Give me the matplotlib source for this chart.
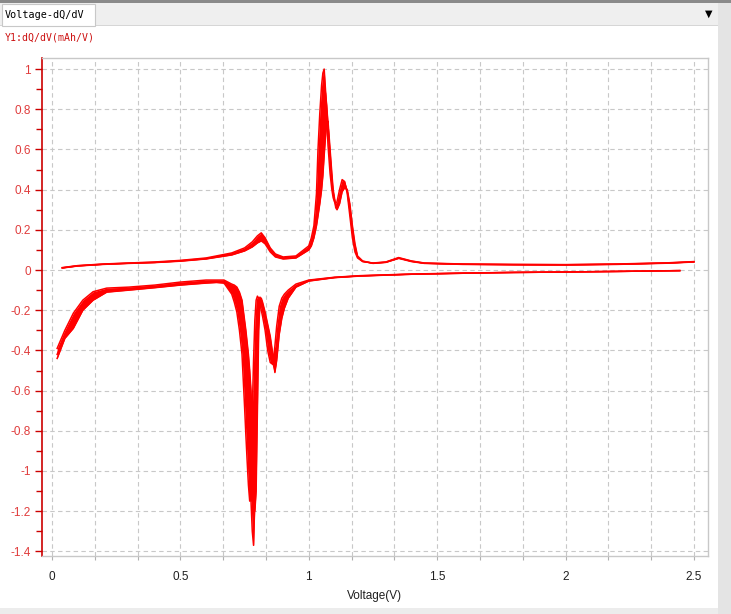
import matplotlib
matplotlib.use("Agg")
import matplotlib.pyplot as plt
import numpy as np
from matplotlib.patches import Rectangle
from matplotlib.ticker import MultipleLocator, FormatStrFormatter

plt.rcParams['axes.unicode_minus'] = False

# ---------------- data ----------------
charge_v = [0.04, 0.1, 0.2, 0.3, 0.4, 0.5, 0.6, 0.7, 0.75, 0.78, 0.8, 0.815, 0.83, 0.85, 0.87,
            0.9, 0.95, 1.0, 1.01, 1.02, 1.03, 1.036, 1.043, 1.05, 1.055, 1.06, 1.065, 1.07,
            1.075, 1.083, 1.09, 1.095, 1.1, 1.105, 1.11, 1.12, 1.13, 1.14, 1.15, 1.16, 1.17,
            1.18, 1.19, 1.21, 1.25, 1.3, 1.35, 1.4, 1.45, 1.6, 1.8, 2.0, 2.2, 2.4, 2.5]
charge_hi = [0.012, 0.022, 0.03, 0.035, 0.04, 0.048, 0.06, 0.085, 0.11, 0.14, 0.17, 0.185, 0.16,
             0.11, 0.08, 0.065, 0.07, 0.12, 0.16, 0.22, 0.38, 0.6, 0.78, 0.92, 0.98, 1.0, 0.9,
             0.75, 0.62, 0.48, 0.4, 0.36, 0.34, 0.33, 0.34, 0.4, 0.45, 0.44, 0.38, 0.27, 0.16,
             0.09, 0.06, 0.042, 0.035, 0.04, 0.062, 0.045, 0.035, 0.03, 0.028, 0.027, 0.03,
             0.036, 0.042]
charge_mid = [0.011, 0.021, 0.029, 0.034, 0.038, 0.046, 0.057, 0.08, 0.102, 0.128, 0.152, 0.165,
              0.145, 0.1, 0.072, 0.06, 0.065, 0.11, 0.14, 0.19, 0.28, 0.4, 0.58, 0.76, 0.86, 0.9,
              0.88, 0.82, 0.72, 0.56, 0.44, 0.38, 0.35, 0.32, 0.31, 0.36, 0.42, 0.43, 0.39, 0.3,
              0.19, 0.11, 0.065, 0.043, 0.034, 0.039, 0.06, 0.044, 0.034, 0.029, 0.027, 0.026,
              0.029, 0.035, 0.041]
charge_lo = [0.01, 0.02, 0.028, 0.033, 0.037, 0.044, 0.055, 0.075, 0.095, 0.115, 0.135, 0.145,
             0.13, 0.09, 0.065, 0.055, 0.06, 0.1, 0.12, 0.16, 0.22, 0.27, 0.33, 0.4, 0.47, 0.57,
             0.66, 0.73, 0.74, 0.6, 0.48, 0.4, 0.36, 0.31, 0.3, 0.33, 0.39, 0.41, 0.4, 0.33, 0.22,
             0.13, 0.07, 0.045, 0.033, 0.038, 0.058, 0.042, 0.033, 0.028, 0.026, 0.025, 0.028,
             0.034, 0.04]

discharge_v = [0.02, 0.05, 0.083, 0.12, 0.16, 0.213, 0.3, 0.4, 0.5, 0.6, 0.64, 0.67, 0.7, 0.71,
               0.72, 0.73, 0.74, 0.75, 0.755, 0.76, 0.765, 0.77, 0.775, 0.78, 0.785, 0.79, 0.795,
               0.8, 0.805, 0.81, 0.815, 0.82, 0.83, 0.84, 0.85, 0.86, 0.868, 0.875, 0.885, 0.895,
               0.905, 0.92, 0.95, 1.0, 1.1, 1.2, 1.4, 1.6, 1.8, 2.0, 2.2, 2.445]
discharge_a = [-0.44, -0.34, -0.29, -0.2, -0.15, -0.11, -0.1, -0.088, -0.075, -0.065, -0.062,
               -0.065, -0.12, -0.16, -0.21, -0.3, -0.42, -0.68, -0.82, -0.95, -1.07, -1.15, -1.0,
               -0.7, -0.45, -0.25, -0.15, -0.13, -0.14, -0.17, -0.2, -0.23, -0.3, -0.4, -0.46,
               -0.47, -0.38, -0.28, -0.18, -0.14, -0.12, -0.1, -0.07, -0.05, -0.036, -0.028,
               -0.02, -0.015, -0.012, -0.01, -0.007, -0.003]
discharge_b = [-0.42, -0.32, -0.25, -0.175, -0.13, -0.1, -0.092, -0.082, -0.068, -0.058, -0.056,
               -0.058, -0.09, -0.12, -0.16, -0.22, -0.32, -0.48, -0.6, -0.72, -0.85, -1.0, -1.15,
               -1.3, -1.37, -1.1, -0.6, -0.3, -0.15, -0.135, -0.15, -0.18, -0.25, -0.33, -0.4,
               -0.46, -0.5, -0.42, -0.27, -0.2, -0.16, -0.12, -0.08, -0.052, -0.037, -0.029,
               -0.021, -0.016, -0.012, -0.01, -0.007, -0.003]
discharge_c = [-0.39, -0.3, -0.215, -0.15, -0.108, -0.09, -0.085, -0.075, -0.06, -0.05, -0.05,
               -0.05, -0.07, -0.075, -0.085, -0.11, -0.15, -0.25, -0.3, -0.36, -0.42, -0.5, -0.6,
               -0.8, -1.0, -1.2, -1.1, -0.7, -0.3, -0.16, -0.14, -0.16, -0.21, -0.27, -0.33,
               -0.42, -0.51, -0.45, -0.32, -0.24, -0.19, -0.14, -0.085, -0.055, -0.038, -0.03,
               -0.021, -0.016, -0.012, -0.01, -0.007, -0.003]

x_ticks = [0, 0.5, 1, 1.5, 2, 2.5]
tab_title = "Voltage-dQ/dV"
y_title = "Y1:dQ/dV(mAh/V)"
x_title = "Voltage(V)"

# ---------------- figure ----------------
W, H = 731, 614
fig = plt.figure(figsize=(W / 100, H / 100), dpi=100)
fig.patch.set_facecolor("white")

def frect(x0, y0, x1, y1, fc, ec="none", lw=0, z=0):
    fig.patches.append(Rectangle((x0 / W, 1 - y1 / H), (x1 - x0) / W, (y1 - y0) / H,
                                 transform=fig.transFigure, facecolor=fc, edgecolor=ec,
                                 linewidth=lw, zorder=z))

# chrome
frect(0, 0, W, 3, "#8a8a8a")
frect(0, 3, W, 25, "#efefef")
frect(0, 25, W, 26, "#d6d6d6")
frect(2, 4, 95, 26, "white", ec="#c8c8c8", lw=0.8)
frect(718, 3, W, H, "#e4e4e4")
frect(0, 608, 718, H, "#ececec")
mono = "DejaVu Sans Mono"
fig.text(5 / W, 1 - 15 / H, tab_title, family=mono, fontsize=7.3, color="black",
         va="center", ha="left")
fig.text(709 / W, 1 - 14 / H, "▼", family="DejaVu Sans", fontsize=7, color="black",
         va="center", ha="center")
fig.text(5 / W, 1 - 38 / H, y_title, family=mono, fontsize=7.1, color="#cc1010",
         va="center", ha="left")

# axes
L, R, T, B = 42, 708, 58, 556
ax = fig.add_axes([L / W, 1 - B / H, (R - L) / W, (B - T) / H])
ax.set_xlim(-0.039, 2.555)
ax.set_ylim(-1.423, 1.055)

red = "#ff0000"
ch = np.array([charge_hi, charge_mid, charge_lo])
ax.fill_between(charge_v, ch.min(axis=0), ch.max(axis=0), color=red, lw=0, zorder=3)
for ys in ch:
    ax.plot(charge_v, ys, color=red, lw=1.1, zorder=4)
dc = np.array([discharge_a, discharge_b, discharge_c])
ax.fill_between(discharge_v, dc.min(axis=0), dc.max(axis=0), color=red, lw=0, zorder=3)
for ys in dc:
    ax.plot(discharge_v, ys, color=red, lw=1.1, zorder=4)

# ticks & grid
ax.set_xticks(x_ticks)
ax.xaxis.set_minor_locator(MultipleLocator(0.5 / 3))
ax.yaxis.set_major_locator(MultipleLocator(0.2))
ax.yaxis.set_minor_locator(MultipleLocator(0.1))
ax.xaxis.set_major_formatter(FormatStrFormatter("%g"))
ax.yaxis.set_major_formatter(FormatStrFormatter("%g"))

grid_kw = dict(color="#c8c8c8", linestyle=(0, (4, 3)), linewidth=0.8)
ax.grid(True, which="major", axis="both", **grid_kw)
ax.grid(True, which="minor", axis="x", **grid_kw)
ax.set_axisbelow(True)

for s in ("top", "right", "bottom"):
    ax.spines[s].set_color("#c8c8c8")
    ax.spines[s].set_linewidth(1.0)
ax.spines["left"].set_color("#cc0000")
ax.spines["left"].set_linewidth(1.2)

ax.tick_params(axis="y", which="major", length=5, width=1, color="#cc0000",
               labelcolor="#e03c3c", labelsize=8.5, pad=3)
ax.tick_params(axis="y", which="minor", length=4, width=1, color="#cc0000")
ax.tick_params(axis="x", which="both", length=3, width=0.8, color="#b0b0b0",
               labelcolor="#202020", labelsize=8.5, pad=8)
for lab in ax.get_xticklabels() + ax.get_yticklabels():
    lab.set_family("Liberation Sans")

ax.set_xlabel(x_title, family="Liberation Sans", fontsize=8.5, color="#202020", labelpad=5)

fig.savefig("out.png", dpi=100)
